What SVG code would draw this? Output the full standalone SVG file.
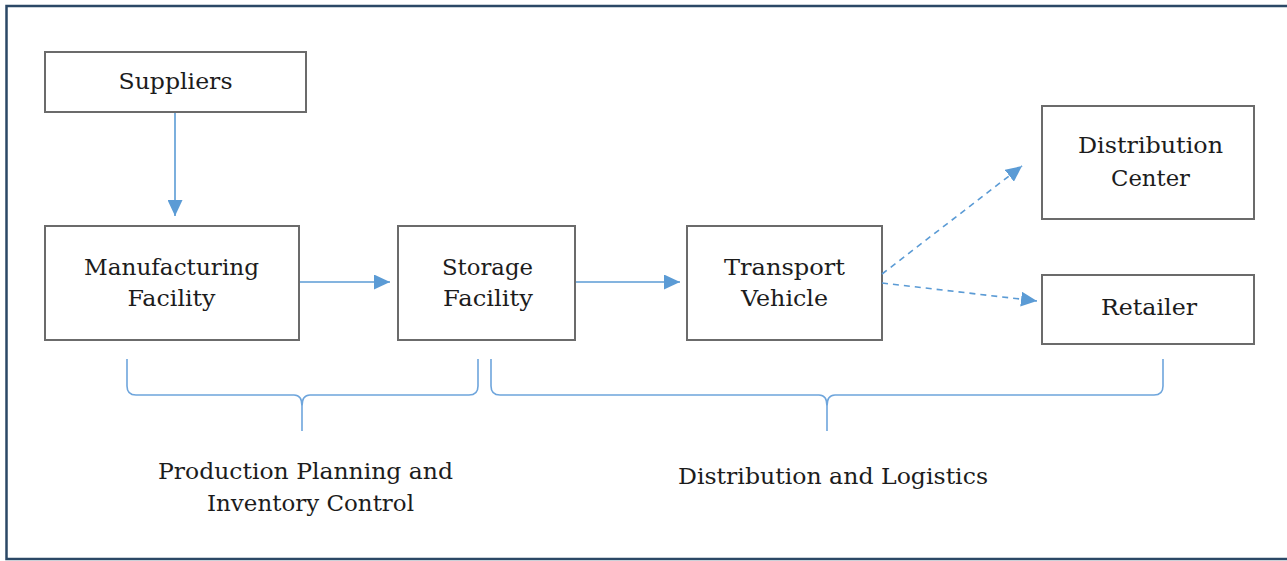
<svg xmlns="http://www.w3.org/2000/svg" width="1287" height="561" viewBox="0 0 1287 561">
<style>
.box{fill:#fff;stroke:#6b6b6b;stroke-width:2}
.t{font-family:"DejaVu Serif","Liberation Serif",serif;font-size:22px;fill:#1c1c1c;text-anchor:middle}
.c{fill:none;stroke:#5b9bd5;stroke-width:1.6}
.d{fill:none;stroke:#5b9bd5;stroke-width:1.6;stroke-dasharray:6,5}
.br{fill:none;stroke:#6ea5dc;stroke-width:1.6}
</style>
<defs>
<marker id="ah" markerUnits="userSpaceOnUse" markerWidth="17" markerHeight="15" refX="16" refY="7.5" orient="auto">
<path d="M0,0 L16,7.5 L0,15 z" fill="#5b9bd5"/>
</marker>
</defs>
<rect x="0" y="0" width="1287" height="561" fill="#fff"/>
<rect x="6.5" y="6" width="1300" height="553" fill="none" stroke="#2b4866" stroke-width="2.5"/>
<g id="suppliers"><rect class="box" x="45" y="52" width="261" height="60"/><text class="t" x="175.5" y="89" textLength="114" lengthAdjust="spacingAndGlyphs">Suppliers</text></g>
<g id="manufacturing"><rect class="box" x="45" y="226" width="254" height="114"/><text class="t" x="171.5" y="275" textLength="175" lengthAdjust="spacingAndGlyphs">Manufacturing</text><text class="t" x="171.5" y="306" textLength="88" lengthAdjust="spacingAndGlyphs">Facility</text></g>
<g id="storage"><rect class="box" x="398" y="226" width="177" height="114"/><text class="t" x="487.5" y="275" textLength="91" lengthAdjust="spacingAndGlyphs">Storage</text><text class="t" x="488" y="306" textLength="90" lengthAdjust="spacingAndGlyphs">Facility</text></g>
<g id="transport"><rect class="box" x="687" y="226" width="195" height="114"/><text class="t" x="784.5" y="275" textLength="121" lengthAdjust="spacingAndGlyphs">Transport</text><text class="t" x="784.5" y="306" textLength="87" lengthAdjust="spacingAndGlyphs">Vehicle</text></g>
<g id="distribution-center"><rect class="box" x="1042" y="106" width="212" height="113"/><text class="t" x="1150.5" y="153" textLength="145" lengthAdjust="spacingAndGlyphs">Distribution</text><text class="t" x="1150.5" y="186" textLength="79" lengthAdjust="spacingAndGlyphs">Center</text></g>
<g id="retailer"><rect class="box" x="1042" y="275" width="212" height="69"/><text class="t" x="1149" y="315" textLength="96" lengthAdjust="spacingAndGlyphs">Retailer</text></g>
<g id="connectors">
<path class="c" d="M175,113 V216" marker-end="url(#ah)"/>
<path class="c" d="M300,282 H390" marker-end="url(#ah)"/>
<path class="c" d="M576,282 H680" marker-end="url(#ah)"/>
<path class="d" d="M882,274 L1022,166" marker-end="url(#ah)"/>
<path class="d" d="M882,283 L1037,301" marker-end="url(#ah)"/>
</g>
<g id="brace-production">
<path class="br" d="M127,359 V386 Q127,395 136,395 H294 Q302,395 302,406 V431 M302,406 Q302,395 310,395 H469 Q478,395 478,386 V359"/>
<text class="t" x="305.5" y="479" textLength="295" lengthAdjust="spacingAndGlyphs">Production Planning and</text>
<text class="t" x="310.5" y="511" textLength="207" lengthAdjust="spacingAndGlyphs">Inventory Control</text>
</g>
<g id="brace-distribution">
<path class="br" d="M491,359 V386 Q491,395 500,395 H819 Q827,395 827,406 V431 M827,406 Q827,395 835,395 H1154 Q1163,395 1163,386 V359"/>
<text class="t" x="833" y="484" textLength="310" lengthAdjust="spacingAndGlyphs">Distribution and Logistics</text>
</g>
</svg>
